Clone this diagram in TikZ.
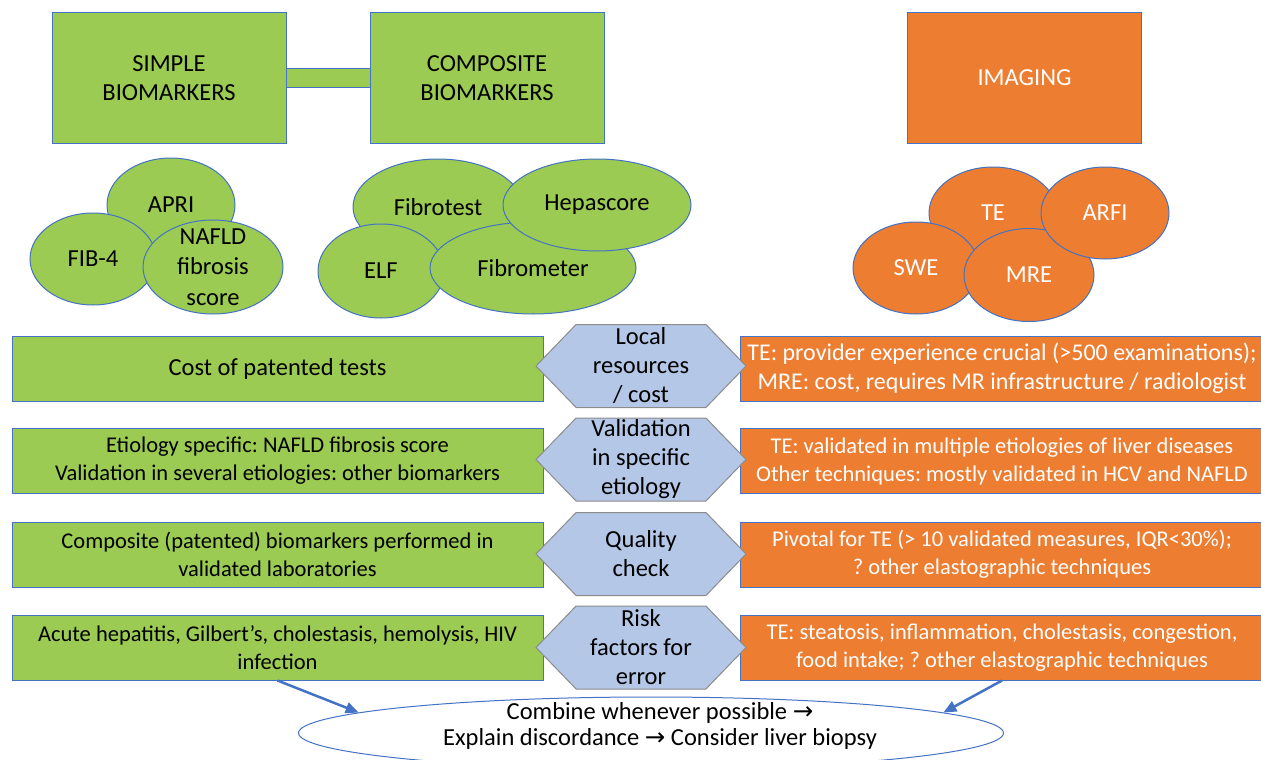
\documentclass[tikz,border=0pt]{standalone}
\usepackage{fontspec}
\setmainfont{Carlito}
\newfontfamily\arrowfont{DejaVu Sans}
\usetikzlibrary{shapes.geometric,shapes.symbols,arrows.meta}
\definecolor{boxgreen}{HTML}{9BCB52}
\definecolor{boxorange}{HTML}{ED7D31}
\definecolor{edgeblue}{HTML}{4472C4}
\definecolor{hexblue}{HTML}{B4C7E7}
\definecolor{hexgray}{HTML}{8C8C8C}
\newcommand{\nextarrow}{{\arrowfont\char"2192}}

\begin{document}
\frenchspacing
\begin{tikzpicture}[x=1pt, y=-1pt,
  every node/.style={font=\fontsize{24.5}{29}\selectfont, align=center, inner sep=0pt},
  small/.style={font=\fontsize{22.5}{28}\selectfont},
  headg/.style={draw=edgeblue, line width=1pt, fill=boxgreen, minimum width=234pt, minimum height=130pt},
  heado/.style={headg, fill=boxorange, text=white},
  bubg/.style={ellipse, draw=edgeblue, line width=1pt, fill=boxgreen},
  bubo/.style={bubg, fill=boxorange, text=white},
  rowg/.style={draw=edgeblue, line width=1pt, fill=boxgreen, minimum width=531pt, minimum height=65pt},
  rowo/.style={rowg, fill=boxorange, text=white, minimum width=524pt},
  hexa/.style={signal, signal to=west and east, signal pointer angle=92, draw=hexgray, line width=1pt,
    fill=hexblue, minimum width=210pt, minimum height=83pt},
  arr/.style={-{Triangle[length=13pt,width=11pt]}, draw=edgeblue, line width=2.5pt}]
  \useasboundingbox (0,0) rectangle (1261,760);
  % Headings
  \node[headg] (simple) at (169,78) {SIMPLE\\BIOMARKERS};
  \node[headg] (comp) at (487,78) {COMPOSITE\\BIOMARKERS};
  \node[heado] (imaging) at (1024.5,78) {IMAGING};
  \draw[double=boxgreen, double distance=17pt, draw=edgeblue, line width=1pt] (simple) -- (comp);
  % Simple biomarkers
  \node[bubg, minimum width=128pt, minimum height=94pt] (apri) at (171,205) {APRI};
  \node[bubg, minimum width=126pt, minimum height=92pt] (fib) at (93,259) {FIB-4};
  \node[bubg, minimum width=140pt, minimum height=94pt,
    label={[font=\fontsize{24.5}{30.5}\selectfont]center:NAFLD\\fibrosis\\score}] (nafld) at (213,267) {};
  % Composite biomarkers
  \node[bubg, minimum width=170pt, minimum height=96pt] (fibrotest) at (438,207) {Fibrotest};
  \node[bubg, minimum width=126pt, minimum height=94pt] (elf) at (381,271) {ELF};
  \node[bubg, minimum width=206pt, minimum height=92pt] (fibrometer) at (533,268) {Fibrometer};
  \node[bubg, minimum width=188pt, minimum height=92pt] (hepa) at (597,205) {Hepascore};
  % Imaging techniques
  \node[bubo, minimum width=128pt, minimum height=92pt] (te) at (993,213) {TE};
  \node[bubo, minimum width=126pt, minimum height=92pt] (swe) at (916,268) {SWE};
  \node[bubo, minimum width=130pt, minimum height=93pt] (mre) at (1029,275) {MRE};
  \node[bubo, minimum width=128pt, minimum height=92pt] (arfi) at (1105,213) {ARFI};
  % Rows: biomarkers
  \node[rowg] (row1l) at (277.5,368.5) {Cost of patented tests};
  \node[rowg, small] (row2l) at (277.5,461) {Etiology specific: NAFLD fibrosis score\\Validation in several etiologies: other biomarkers};
  \node[rowg, small] (row3l) at (277.5,554.5) {Composite (patented) biomarkers performed in\\validated laboratories};
  \node[rowg, small] (row4l) at (277.5,647.5) {Acute hepatitis, Gilbert’s, cholestasis, hemolysis, HIV\\infection};
  % Rows: imaging
  \node[rowo, font=\fontsize{24}{29}\selectfont] (row1r) at (1002,368.5) {TE: provider experience crucial (>500 examinations);\\MRE: cost, requires MR infrastructure / radiologist};
  \node[rowo, small] (row2r) at (1002,461) {TE: validated in multiple etiologies of liver diseases\\Other techniques: mostly validated in HCV and NAFLD};
  \node[rowo, small] (row3r) at (1002,554.5) {Pivotal for TE (> 10 validated measures, IQR<30\%);\\? other elastographic techniques};
  \node[rowo, small] (row4r) at (1002,647.5) {TE: steatosis, inflammation, cholestasis, congestion,\\food intake; ? other elastographic techniques};
  % Criteria
  \node[hexa, label={center:Local\\resources\\/ cost}] (hex1) at (641,366) {};
  \node[hexa, label={center:Validation\\in specific\\etiology}] (hex2) at (641,459.5) {};
  \node[hexa, label={center:Quality\\check}] (hex3) at (641,554) {};
  \node[hexa, label={center:Risk\\factors for\\error}] (hex4) at (641,647.5) {};
  % Conclusion
  \node[ellipse, draw=edgeblue, line width=1pt, fill=white, minimum width=705pt, minimum height=72pt] (comb) at (651,733) {};
  \node[font=\fontsize{24.5}{25.5}\selectfont] (combtext) at (660,726)
    {Combine whenever possible \nextarrow\\Explain discordance \nextarrow{} Consider liver biopsy};
  \draw[arr] (row4l.south) -- (comb.176);
  \draw[arr] (row4r.south) -- (comb.4);
\end{tikzpicture}
\end{document}
